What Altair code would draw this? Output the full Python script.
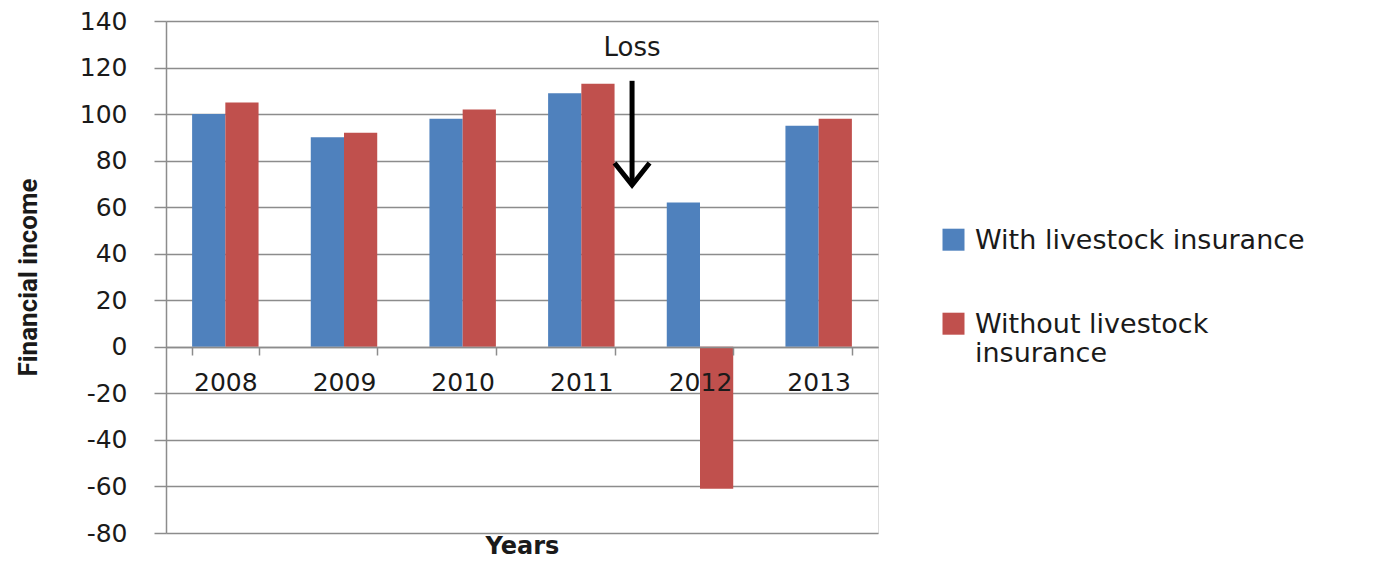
import altair as alt
import pandas as pd

years = ["2008", "2009", "2010", "2011", "2012", "2013"]
series_names = ["With livestock insurance", "Without livestock insurance"]
with_insurance = [100, 90, 98, 109, 62, 95]
without_insurance = [105, 92, 102, 113, -61, 98]
series_colors = ["#4F81BD", "#C0504D"]
y_ticks = [-80, -60, -40, -20, 0, 20, 40, 60, 80, 100, 120, 140]

# annotation: "Loss" arrow next to 2011
arrow_year = ["2011"]
arrow_top = [114.3]
arrow_tip = [69.5]
loss_label_y = [128.5]
loss_text = ["Loss"]

rows = []
for i, yr in enumerate(years):
    rows.append({"year": yr, "series": series_names[0], "value": with_insurance[i]})
    rows.append({"year": yr, "series": series_names[1], "value": without_insurance[i]})
df = pd.DataFrame(rows)

ann = pd.DataFrame({"year": arrow_year, "top": arrow_top, "tip": arrow_tip,
                    "ly": loss_label_y, "txt": loss_text})

GRAY = "#8c8c8c"
TXT = "#1a1a1a"

xscale = alt.Scale(domain=years, paddingInner=0.44, paddingOuter=0.22)
yscale = alt.Scale(domain=[-80, 140], nice=False, zero=False)

bars = alt.Chart(df).mark_bar().encode(
    x=alt.X("year:N", scale=xscale, sort=years,
            axis=alt.Axis(title="Years", orient="bottom", offset=-186, labelAngle=0,
                          labelFont="DejaVu Sans", labelFontSize=25, labelColor=TXT,
                          labelPadding=27, labelBaseline="middle", zindex=2,
                          tickBand="extent", ticks=True, tickSize=8, tickColor=GRAY,
                          tickWidth=1.5, domainColor=GRAY, domainWidth=1.5, grid=False,
                          titleFont="DejaVu Sans", titleFontWeight="bold", titleFontSize=24,
                          titleColor=TXT, titleY=199, titleBaseline="middle")),
    xOffset=alt.XOffset("series:N", sort=series_names),
    y=alt.Y("value:Q", scale=yscale,
            axis=alt.Axis(values=y_ticks, title="Financial income",
                          labelExpr="'' + datum.value",
                          labelFont="DejaVu Sans", labelFontSize=25, labelColor=TXT,
                          labelPadding=27, tickSize=12, tickColor=GRAY, tickWidth=1.5,
                          domainColor=GRAY, domainWidth=1.5, grid=True, gridColor=GRAY,
                          gridWidth=1.5, titleFont="Roboto", titleFontWeight="bold",
                          titleFontSize=26, titleColor=TXT, titleX=-138,
                          titleBaseline="middle")),
    color=alt.Color("series:N", scale=alt.Scale(domain=series_names, range=series_colors),
                    legend=alt.Legend(title=None, orient="none", legendX=774, legendY=214,
                                      symbolType="M-1,-1.8H1V0.2H-1Z", symbolSize=484,
                                      symbolStrokeWidth=0, labelFont="DejaVu Sans",
                                      labelFontSize=27, labelColor=TXT, labelOffset=8,
                                      labelLimit=0, rowPadding=56, padding=0,
                                      labelBaseline="alphabetic",
                                      labelExpr="datum.label == 'Without livestock insurance' ? ['Without livestock', 'insurance'] : datum.label")),
)

rule = alt.Chart(ann).mark_rule(strokeWidth=5, color="black", xOffset=17.5).encode(
    x=alt.X("year:N", bandPosition=1),
    y=alt.Y("top:Q"),
    y2=alt.Y2("tip:Q"),
)
head = alt.Chart(ann).mark_point(shape="M-1,-1.26L0,0L1,-1.26", size=1225, filled=False,
                                 stroke="black", strokeWidth=5, opacity=1,
                                 xOffset=17.5).encode(
    x=alt.X("year:N", bandPosition=1),
    y=alt.Y("tip:Q"),
)
loss = alt.Chart(ann).mark_text(font="DejaVu Sans", fontSize=26, color=TXT,
                                baseline="middle", align="center", xOffset=17.5).encode(
    x=alt.X("year:N", bandPosition=1),
    y=alt.Y("ly:Q"),
    text="txt:N",
)

chart = alt.layer(bars, rule, head, loss).properties(
    width=712, height=512,
    autosize=alt.AutoSizeParams(type="none"),
    padding={"left": 158, "top": 13, "right": 498, "bottom": 28},
).configure_view(stroke=None).configure(background="white")

chart.save("out.html", embed_options={"renderer": "svg", "actions": False})
